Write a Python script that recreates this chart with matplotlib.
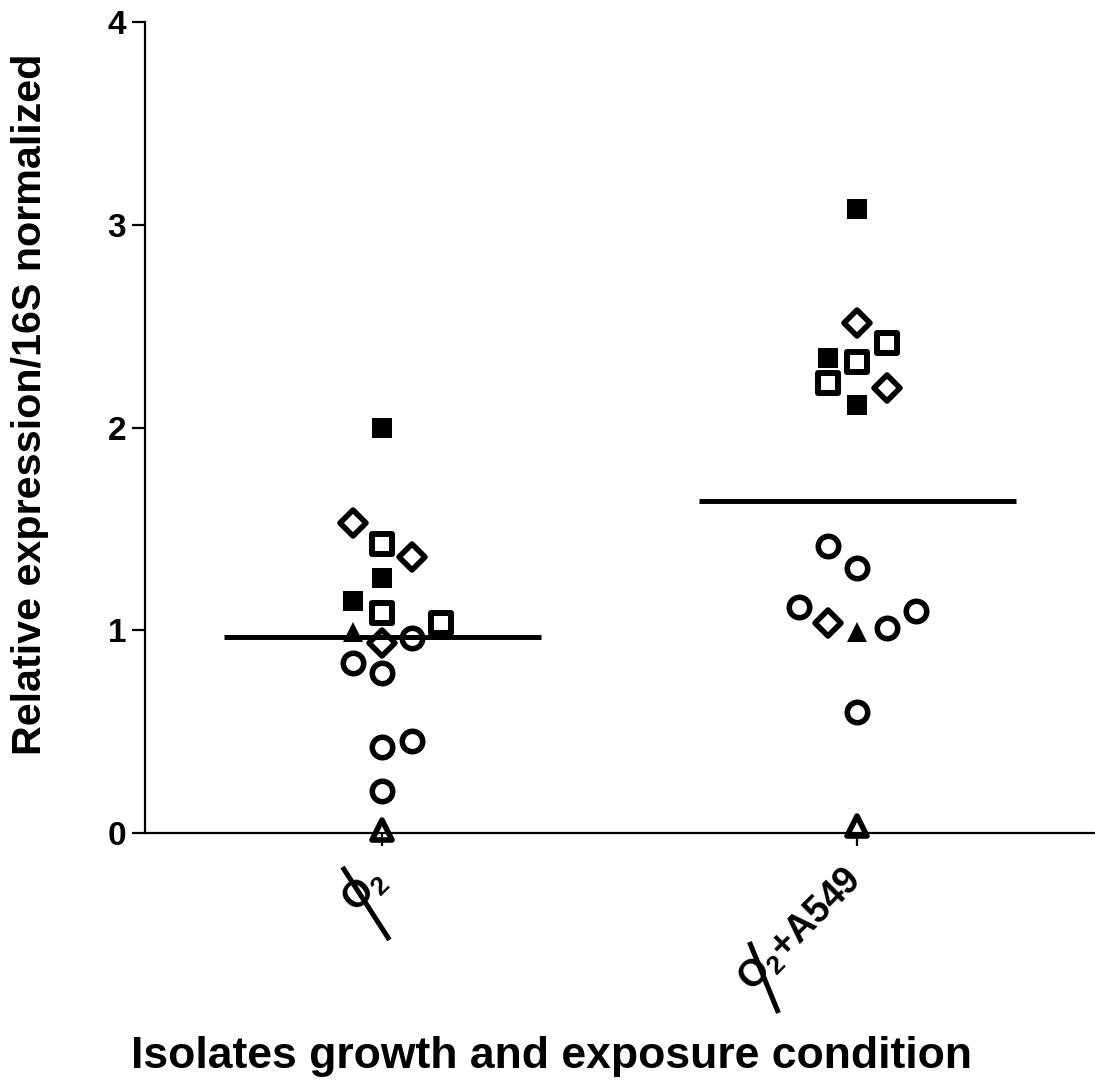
import matplotlib
matplotlib.use('Agg')
import matplotlib.pyplot as plt
import matplotlib.transforms as mtransforms
from matplotlib.markers import MarkerStyle
import numpy as np

plt.rcParams['font.family'] = ['Liberation Sans', 'DejaVu Sans']
plt.rcParams['font.weight'] = 'bold'
plt.rcParams['mathtext.fontset'] = 'custom'
plt.rcParams['mathtext.rm'] = 'Liberation Sans'
plt.rcParams['mathtext.it'] = 'Liberation Sans:bold'
plt.rcParams['mathtext.bf'] = 'Liberation Sans:bold'

conditions = [r'$\mathbf{O}_2$', r'$\mathbf{O}_2$+A549']

# values, one list per isolate symbol and condition
# slot = horizontal jitter column used by the original scatter
filled_sq_o2 = [2.00, 1.26, 1.145]
filled_sq_o2_slot = [0, 0, -1]
open_sq_o2 = [1.425, 1.085, 1.035]
open_sq_o2_slot = [0, 0, 2]
diamond_o2 = [1.53, 1.36, 0.937]
diamond_o2_slot = [-1, 1, 0]
tri_filled_o2 = [0.99]
tri_filled_o2_slot = [-1]
tri_open_o2 = [0.015]
tri_open_o2_slot = [0]
circle_o2 = [0.962, 0.838, 0.79, 0.424, 0.454, 0.207]
circle_o2_slot = [1, -1, 0, 0, 1, 0]

filled_sq_a549 = [3.078, 2.343, 2.111]
filled_sq_a549_slot = [0, -1, 0]
open_sq_a549 = [2.417, 2.323, 2.219]
open_sq_a549_slot = [1, 0, -1]
diamond_a549 = [2.515, 2.195, 1.036]
diamond_a549_slot = [0, 1, -1]
tri_filled_a549 = [0.99]
tri_filled_a549_slot = [0]
tri_open_a549 = [0.035]
tri_open_a549_slot = [0]
circle_a549 = [1.416, 1.307, 1.115, 1.011, 1.095, 0.597]
circle_a549_slot = [-1, 0, -2, 1, 2, 0]

slot_w = 0.0614

fig = plt.figure(figsize=(10.95, 10.86), dpi=100)
ax = fig.add_axes([0.1324, 0.2330, 0.8676, 0.7467])

def mk(m):
    return MarkerStyle(m, joinstyle='round')

# (o2 values, slots, a549 values, slots, marker, size, edge width, filled)
series = [
    (filled_sq_o2, filled_sq_o2_slot, filled_sq_a549, filled_sq_a549_slot, 's', 14.9, 0.0, True),
    (open_sq_o2, open_sq_o2_slot, open_sq_a549, open_sq_a549_slot, 's', 14.9, 4.3, False),
    (diamond_o2, diamond_o2_slot, diamond_a549, diamond_a549_slot, 'D', 12.9, 4.0, False),
    (tri_filled_o2, tri_filled_o2_slot, tri_filled_a549, tri_filled_a549_slot, '^', 14.5, 0.0, True),
    (tri_open_o2, tri_open_o2_slot, tri_open_a549, tri_open_a549_slot, '^', 14.0, 4.0, False),
    (circle_o2, circle_o2_slot, circle_a549, circle_a549_slot, 'o', 14.7, 4.0, False),
]

all_o2 = []
all_a549 = []
for v1, s1, v2, s2, m, ms, mew, filled in series:
    xs = [1 + s * slot_w for s in s1] + [2 + s * slot_w for s in s2]
    ys = list(v1) + list(v2)
    all_o2 += list(v1)
    all_a549 += list(v2)
    ax.plot(xs, ys, linestyle='none', marker=mk(m), markersize=ms,
            markeredgewidth=mew, markeredgecolor='black',
            markerfacecolor='black' if filled else 'none',
            clip_on=False, zorder=3)

means = [np.mean(all_o2), np.mean(all_a549)]
for i, mval in enumerate(means):
    ax.plot([i + 1 - 0.333, i + 1 + 0.333], [mval, mval], color='black',
            linewidth=3.6, solid_capstyle='butt', zorder=2)

ax.set_xlim(0.5, 2.5)
ax.set_ylim(0, 4)
ax.set_yticks([0, 1, 2, 3, 4])
ax.set_xticks([1, 2])
ax.set_xticklabels(conditions)
for s in ['top', 'right']:
    ax.spines[s].set_visible(False)
ax.spines['left'].set_linewidth(1.6)
ax.spines['bottom'].set_linewidth(1.6)
ax.tick_params(axis='y', length=9.5, width=1.6, pad=4, labelsize=24)
ax.tick_params(axis='x', length=9, width=1.6, pad=21, labelsize=27)

offset = mtransforms.ScaledTranslation(-1 / 72, 0, fig.dpi_scale_trans)
for lab in ax.get_xticklabels():
    lab.set_rotation(45)
    lab.set_rotation_mode('anchor')
    lab.set_ha('right')
    lab.set_va('center')
    lab.set_transform(lab.get_transform() + offset)

# slash through the O of each condition label, in points from the tick base
slashes = [((-28.8, -24.5), (5.0, -77.0)), ((-77.8, -78.5), (-56.9, -129.6))]
for i, (p0, p1) in enumerate(slashes):
    tr = mtransforms.Affine2D().scale(fig.dpi / 72.0) + \
        mtransforms.ScaledTranslation(i + 1, 0, ax.get_xaxis_transform())
    ax.add_line(plt.Line2D([p0[0], p1[0]], [p0[1], p1[1]], color='black',
                           linewidth=3.6, solid_capstyle='butt', clip_on=False,
                           transform=tr))

ax.set_ylabel('Relative expression/16S normalized', fontsize=29.7, fontweight='bold')
ax.yaxis.set_label_coords(-0.121, 0.528)
ax.yaxis.label.set_va('center')
ax.set_xlabel('Isolates growth and exposure condition', fontsize=32, fontweight='bold')
ax.xaxis.set_label_coords(0.428, -0.276)
ax.xaxis.label.set_va('center')

plt.savefig('out.png', dpi=100)
